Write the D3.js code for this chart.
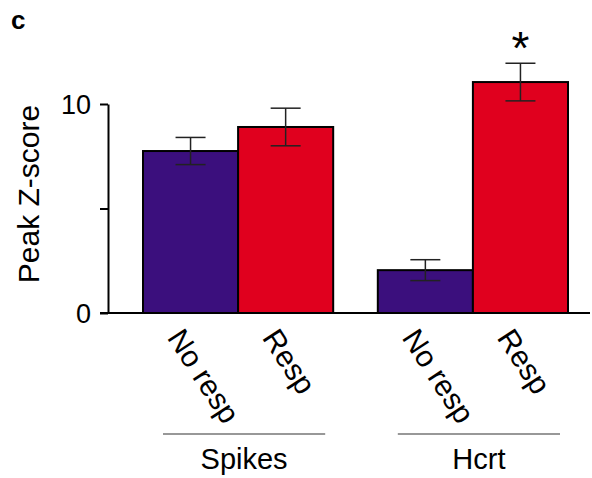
<!DOCTYPE html>
<html>
<head>
<meta charset="utf-8">
<script src="https://cdn.jsdelivr.net/npm/d3@7"></script>
<style>
  body { margin: 0; background: #fff; }
  text { font-family: "Liberation Sans", Arial, sans-serif; fill: #000; }
</style>
</head>
<body>
<div id="chart"></div>
<script>
// data
const groups = ["Spikes", "Hcrt"];
const conditions = ["No resp", "Resp"];
const means = [[7.75, 8.9], [2.05, 11.05]];
const errors = [[0.65, 0.9], [0.5, 0.9]];
const yTicks = [0, 5, 10];
const yTickLabels = ["0", "", "10"];
const colors = ["#3b0f7d", "#e0001e"];

const W = 592, H = 478;

const svg = d3.select("#chart")
  .append("svg")
  .attr("width", W)
  .attr("height", H);

// scales
const y = d3.scaleLinear()
  .domain([0, 10])
  .range([313, 104]);

const xGroup = d3.scaleBand()
  .domain(groups)
  .range([143, 568])
  .paddingInner(0.19)
  .paddingOuter(0);

const xCond = d3.scaleBand()
  .domain(conditions)
  .range([0, xGroup.bandwidth()])
  .padding(0);

// panel letter
svg.append("text")
  .attr("x", 11)
  .attr("y", 29)
  .style("font-size", "26px")
  .style("font-weight", "bold")
  .text("c");

// y axis
const yAxis = svg.append("g")
  .attr("transform", "translate(108,0)")
  .call(d3.axisLeft(y)
    .tickValues(yTicks)
    .tickFormat((d, i) => yTickLabels[i])
    .tickSize(8)
    .tickSizeOuter(0)
    .tickPadding(9));
yAxis.selectAll("path, line").attr("stroke", "#000").attr("stroke-width", 2);
yAxis.selectAll("text")
  .style("font-size", "27px")
  .style("font-family", "'Liberation Sans', Arial, sans-serif")
  .attr("dy", "0.36em");

svg.append("text")
  .attr("transform", `translate(39,194) rotate(-90)`)
  .attr("text-anchor", "middle")
  .style("font-size", "30px")
  .text("Peak Z-score");

// flattened rows for bars
const rows = [];
groups.forEach((g, gi) => {
  conditions.forEach((c, ci) => {
    rows.push({ group: g, cond: c, ci: ci, value: means[gi][ci], err: errors[gi][ci] });
  });
});

const bx = d => xGroup(d.group) + xCond(d.cond);

svg.selectAll("rect.bar")
  .data(rows)
  .join("rect")
  .attr("class", "bar")
  .attr("x", bx)
  .attr("y", d => y(d.value))
  .attr("width", xCond.bandwidth())
  .attr("height", d => y(0) - y(d.value))
  .attr("fill", d => colors[d.ci])
  .attr("stroke", "#000")
  .attr("stroke-width", 2);

// error bars
const capW = 30;
const eb = svg.selectAll("g.err")
  .data(rows)
  .join("g")
  .attr("class", "err")
  .attr("stroke", "#222")
  .attr("stroke-width", 1.5);
eb.append("line")
  .attr("x1", d => bx(d) + xCond.bandwidth() / 2)
  .attr("x2", d => bx(d) + xCond.bandwidth() / 2)
  .attr("y1", d => y(d.value - d.err))
  .attr("y2", d => y(d.value + d.err));
eb.append("line")
  .attr("x1", d => bx(d) + xCond.bandwidth() / 2 - capW / 2)
  .attr("x2", d => bx(d) + xCond.bandwidth() / 2 + capW / 2)
  .attr("y1", d => y(d.value + d.err))
  .attr("y2", d => y(d.value + d.err));
eb.append("line")
  .attr("x1", d => bx(d) + xCond.bandwidth() / 2 - capW / 2)
  .attr("x2", d => bx(d) + xCond.bandwidth() / 2 + capW / 2)
  .attr("y1", d => y(d.value - d.err))
  .attr("y2", d => y(d.value - d.err));

// baseline
svg.append("line")
  .attr("x1", 100)
  .attr("x2", 590)
  .attr("y1", y(0))
  .attr("y2", y(0))
  .attr("stroke", "#000")
  .attr("stroke-width", 2);

// significance star
const star = rows[3];
svg.append("text")
  .attr("x", bx(star) + xCond.bandwidth() / 2)
  .attr("y", y(star.value + star.err) + 1)
  .attr("text-anchor", "middle")
  .style("font-size", "46px")
  .text("*");

// rotated condition labels
svg.selectAll("text.cond")
  .data(rows)
  .join("text")
  .attr("class", "cond")
  .attr("transform", d => `translate(${bx(d) + xCond.bandwidth() / 2 - 6},${y(0) + 13}) rotate(57)`)
  .attr("dy", "0.72em")
  .style("font-size", "30px")
  .text(d => d.cond);

// group brackets + names
groups.forEach(g => {
  const x0 = xGroup(g) + 20, x1 = xGroup(g) + xGroup.bandwidth() - 8;
  svg.append("line")
    .attr("x1", x0).attr("x2", x1)
    .attr("y1", 434).attr("y2", 434)
    .attr("stroke", "#333")
    .attr("stroke-width", 1.2);
  svg.append("text")
    .attr("x", (x0 + x1) / 2)
    .attr("y", 469)
    .attr("text-anchor", "middle")
    .style("font-size", "29px")
    .text(g);
});
</script>
</body>
</html>
